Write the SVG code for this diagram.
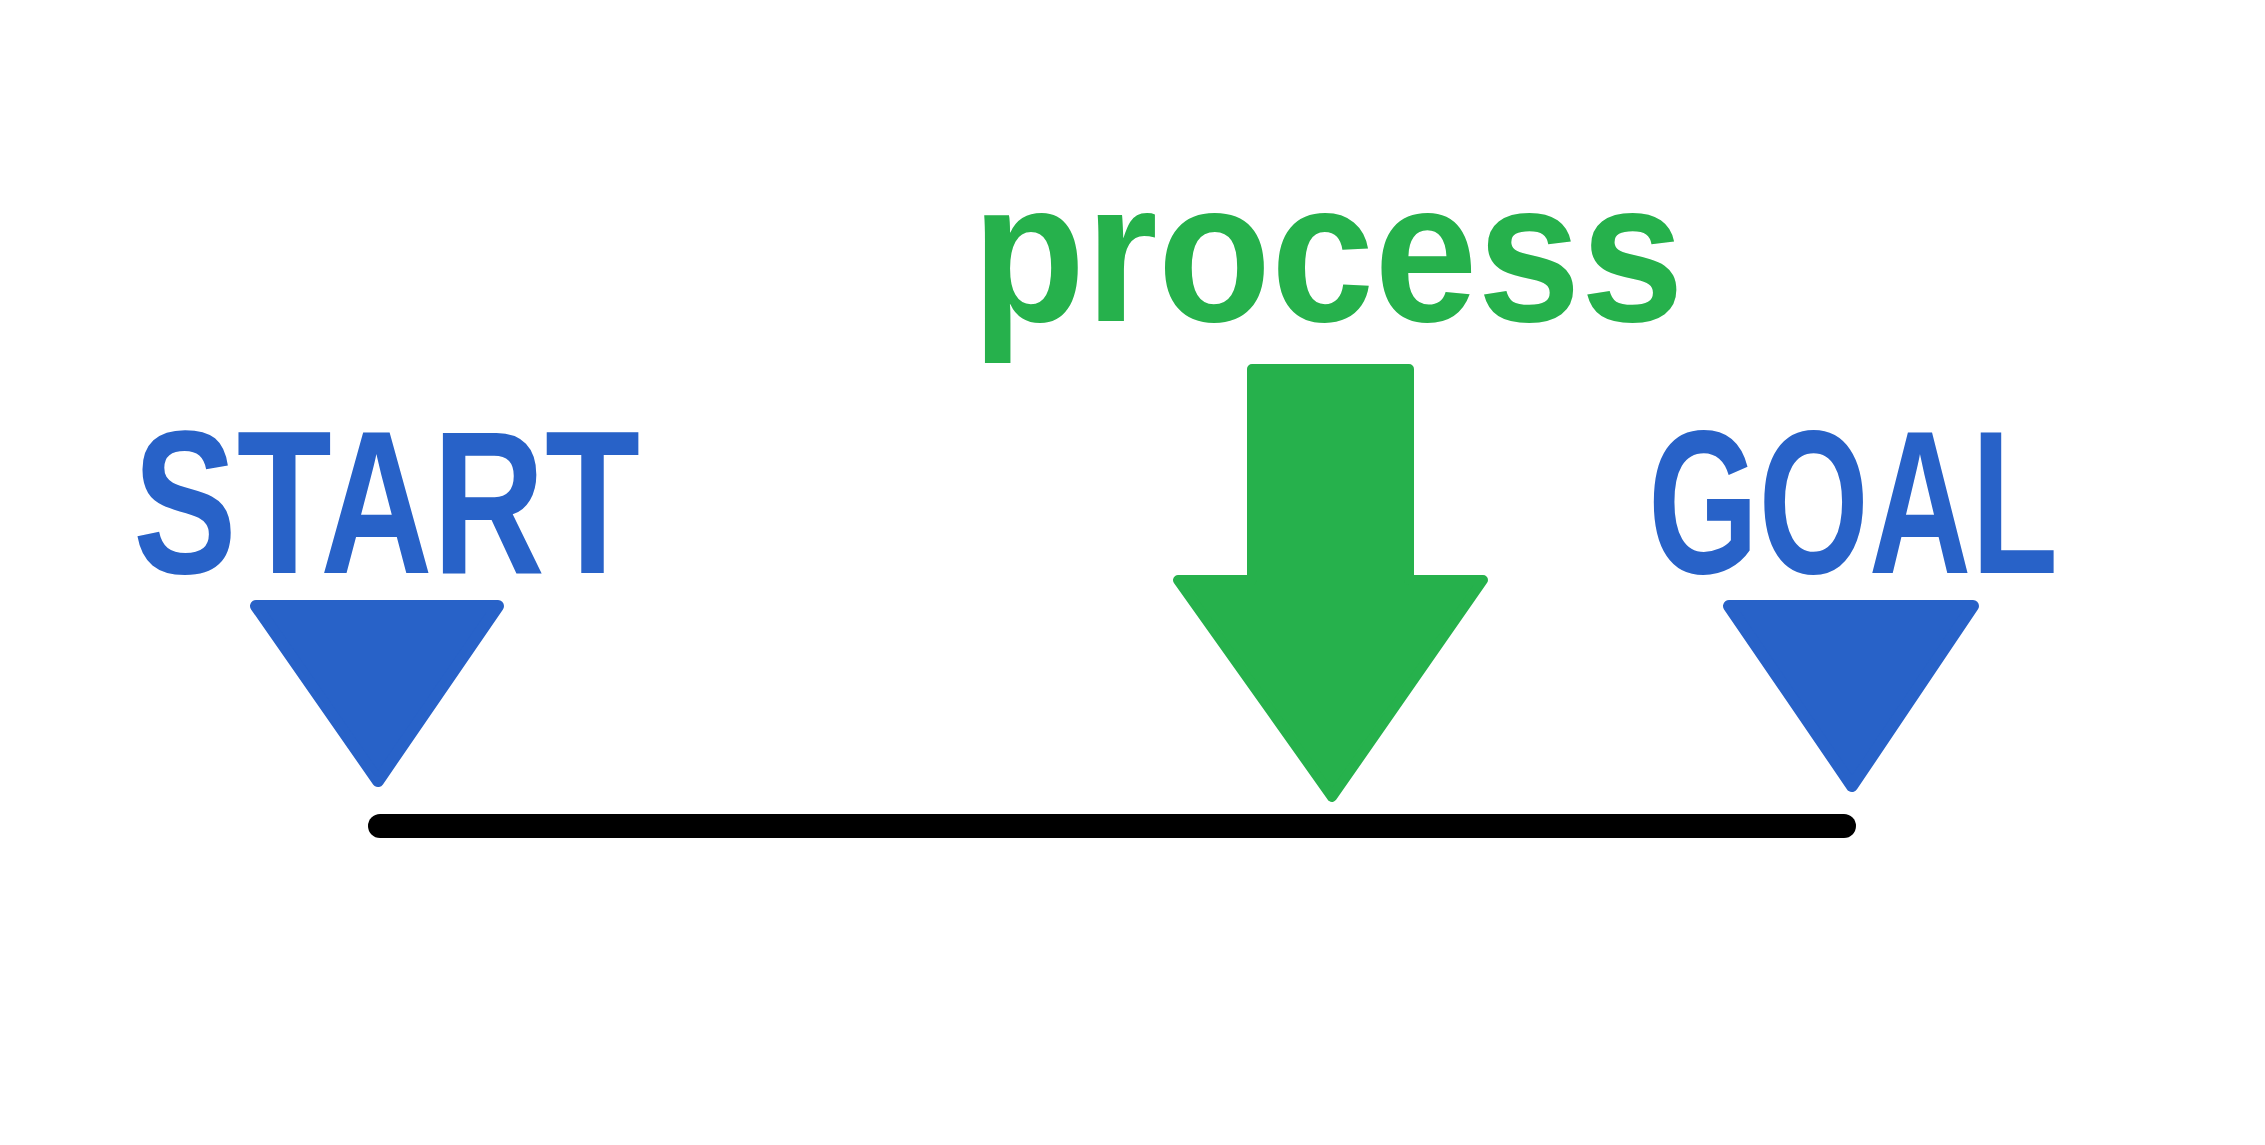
<svg xmlns="http://www.w3.org/2000/svg" width="2265" height="1145" viewBox="0 0 2265 1145">
  <style>
    .lbl { font-family: "Liberation Sans", Arial, sans-serif; font-weight: bold; }
    .blue { fill: #2862C8; }
    .blueS { fill: #2862C8; stroke: #2862C8; stroke-width: 12; stroke-linejoin: round; }
    .green { fill: #26B14C; }
    .greenS { fill: #26B14C; stroke: #26B14C; stroke-width: 10; stroke-linejoin: round; }
  </style>
  <rect width="2265" height="1145" fill="#ffffff"/>
  <g id="connectors">
    <line x1="380" y1="826" x2="1844" y2="826" stroke="#000000" stroke-width="24" stroke-linecap="round"/>
  </g>
  <g id="start">
    <text class="lbl blue" x="133" y="573" font-size="205" textLength="507" lengthAdjust="spacingAndGlyphs">START</text>
    <polygon class="blueS" points="256,606 498,606 378,781"/>
  </g>
  <g id="process">
    <text class="lbl green" x="972" y="321" font-size="200" textLength="712" lengthAdjust="spacingAndGlyphs">process</text>
    <path class="greenS" d="M1252,369 H1409 V580 H1483 L1332,797 L1178,580 H1252 Z"/>
  </g>
  <g id="goal">
    <text class="lbl blue" x="1648" y="573" font-size="205" textLength="410" lengthAdjust="spacingAndGlyphs">GOAL</text>
    <polygon class="blueS" points="1729,606 1973,606 1852,786"/>
  </g>
</svg>
